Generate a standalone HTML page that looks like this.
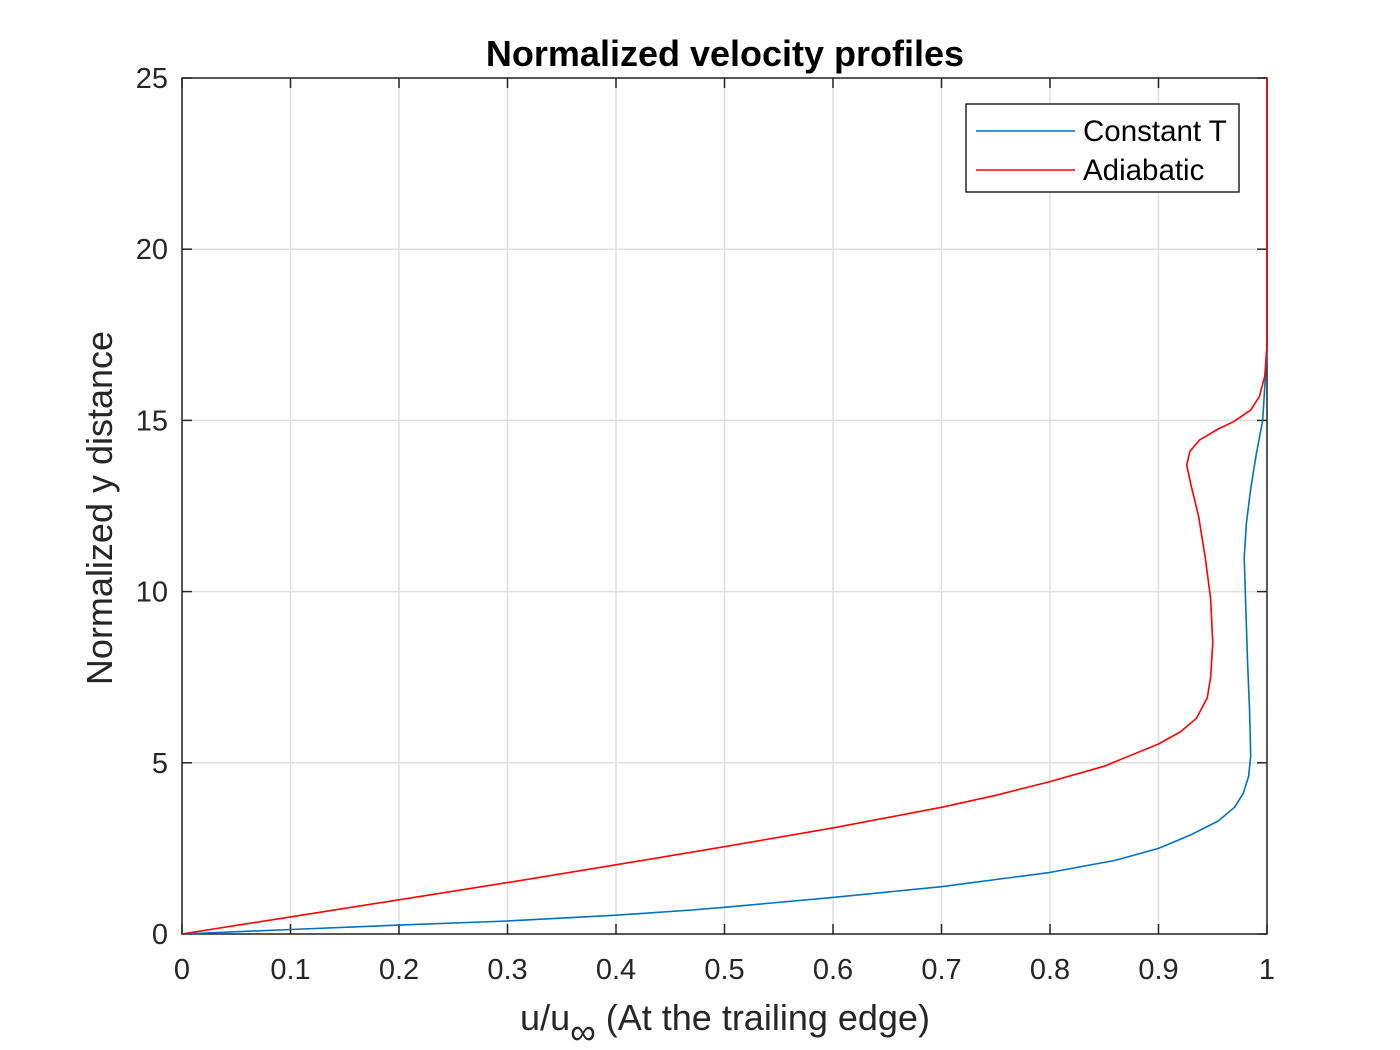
<!DOCTYPE html>
<html><head><meta charset="utf-8"><style>body{margin:0;background:#fff}svg{display:block;font-family:"Liberation Sans",Arial,sans-serif}</style></head>
<body>
<svg id="chart" width="1400" height="1050">
<rect width="1400" height="1050" fill="#fff"/>
<g id="grid"></g><g id="axes"></g><g id="lines"></g>
<text x="725" y="66" text-anchor="middle" font-size="36" font-weight="bold" fill="#000">Normalized velocity profiles</text>
<text transform="translate(112,508) rotate(-90)" text-anchor="middle" font-size="36" fill="#262626">Normalized y distance</text>
<text x="725" y="1030" text-anchor="middle" font-size="36" fill="#262626">u/u<tspan dy="14">∞</tspan><tspan dy="-14"> (At the trailing edge)</tspan></text>
<g>
<rect x="966" y="104" width="273" height="88" fill="#fff" stroke="#262626" stroke-width="1.5"/>
<line x1="976" y1="131" x2="1075" y2="131" stroke="#0072BD" stroke-width="1.5"/>
<text x="1083" y="141" font-size="29.5" fill="#000">Constant T</text>
<line x1="976" y1="170" x2="1075" y2="170" stroke="#FF0000" stroke-width="1.5"/>
<text x="1083" y="180" font-size="29.5" fill="#000">Adiabatic</text>
</g>
</svg>
<script>
const xTicks=[0,0.1,0.2,0.3,0.4,0.5,0.6,0.7,0.8,0.9,1];
const xTickLabels=["0","0.1","0.2","0.3","0.4","0.5","0.6","0.7","0.8","0.9","1"];
const yTicks=[0,5,10,15,20,25];
const yTickLabels=["0","5","10","15","20","25"];
const constTU=[0,0.1,0.2,0.3,0.4,0.47,0.5,0.6,0.7,0.8,0.86,0.9,0.93,0.955,0.97,0.978,0.983,0.985,0.984,0.982,0.98,0.979,0.981,0.985,0.99,0.996,0.998,1,1];
const constTY=[0,0.13,0.26,0.38,0.55,0.7,0.78,1.07,1.38,1.8,2.15,2.5,2.9,3.3,3.7,4.1,4.6,5.2,6.5,8,10,11,12,13,14,15,16,17,25];
const adiaU=[0,0.1,0.2,0.3,0.4,0.5,0.6,0.7,0.75,0.8,0.85,0.9,0.92,0.935,0.945,0.948,0.95,0.948,0.943,0.937,0.93,0.926,0.929,0.938,0.955,0.969,0.985,0.993,0.998,1,1];
const adiaY=[0,0.5,1.0,1.5,2.02,2.55,3.1,3.7,4.05,4.45,4.9,5.55,5.9,6.3,6.9,7.5,8.5,9.8,11,12.2,13.1,13.7,14.1,14.43,14.75,14.96,15.3,15.7,16.3,17.2,25];
const X0=182,X1=1267,Y0=934,Y1=78;
const sx=v=>X0+(v-0)/(1-0)*(X1-X0);
const sy=v=>Y0-(v-0)/(25-0)*(Y0-Y1);
const NS="http://www.w3.org/2000/svg";
function mk(t,a,p){const e=document.createElementNS(NS,t);for(const k in a)e.setAttribute(k,a[k]);p.appendChild(e);return e;}
const grid=document.getElementById('grid'),axes=document.getElementById('axes'),lines=document.getElementById('lines');
xTicks.forEach((t,i)=>{const x=sx(t);
 const g=mk('line',{x1:x,x2:x,y1:Y1,y2:Y0,stroke:'#dfdfdf','stroke-width':1.5},grid);
 
 
 mk('line',{x1:x,x2:x,y1:Y0,y2:Y0-10,stroke:'#262626','stroke-width':1.5},axes);
 mk('line',{x1:x,x2:x,y1:Y1,y2:Y1+10,stroke:'#262626','stroke-width':1.5},axes);
 const tx=mk('text',{x:x,y:Y0+45,'text-anchor':'middle','font-size':29,fill:'#262626'},axes);
 tx.textContent=xTickLabels[i];
 
 
});
yTicks.forEach((t,i)=>{const y=sy(t);
 const g=mk('line',{x1:X0,x2:X1,y1:y,y2:y,stroke:'#dfdfdf','stroke-width':1.5},grid);
 
 
 mk('line',{x1:X0,x2:X0+10,y1:y,y2:y,stroke:'#262626','stroke-width':1.5},axes);
 mk('line',{x1:X1,x2:X1-10,y1:y,y2:y,stroke:'#262626','stroke-width':1.5},axes);
 const tx=mk('text',{x:X0-14,y:y+10,'text-anchor':'end','font-size':29,fill:'#262626'},axes);
 tx.textContent=yTickLabels[i];
 
 
});
const box=mk('rect',{x:X0,y:Y1,width:X1-X0,height:Y0-Y1,fill:'none',stroke:'#262626','stroke-width':1.5},axes);


function path(U,Y,c,name){const d=U.map((u,i)=>(i?'L':'M')+sx(u).toFixed(1)+','+sy(Y[i]).toFixed(1)).join('');
 const p=mk('path',{d:d,fill:'none',stroke:c,'stroke-width':1.6,'stroke-linejoin':'round'},lines);
 
 }
path(constTU,constTY,'#0072BD','constant-t-line');
path(adiaU,adiaY,'#FF0000','adiabatic-line');
</script>
</body></html>
